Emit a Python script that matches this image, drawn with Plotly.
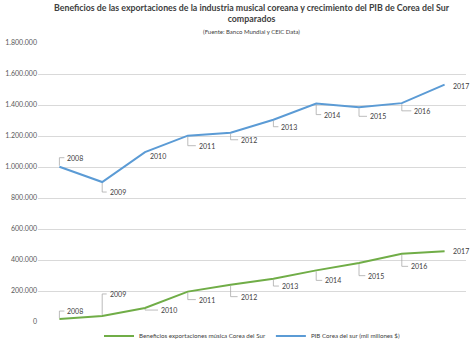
import plotly.graph_objects as go

years = ["2008", "2009", "2010", "2011", "2012", "2013", "2014", "2015", "2016", "2017"]
pib = [1002000, 903000, 1096000, 1202000, 1221000, 1305000, 1409000, 1385000, 1412000, 1531000]
musica = [19000, 39000, 90000, 196000, 241000, 279000, 333000, 381000, 441000, 456000]

# label offsets in pixels (dx right, dy down) relative to each point
pib_off = [(6, -9), (5.5, 10), (3, 3.5), (9, 10), (8.5, 7), (6, 7), (6, 11), (9, 9), (10.5, 7.7), (6, 1)]
mus_off = [(6, -8), (5.5, -22), (14, 2), (9, 8), (8, 12), (6.5, 7.3), (7, 10), (7.3, 12.7), (7.3, 12.7), (6, 0)]

GREEN = "#70AD47"
BLUE = "#5B9BD5"
FONT = "Lato, 'Open Sans', sans-serif"

fig = go.Figure()
fig.add_trace(go.Scatter(x=years, y=musica, mode="lines", name="Beneficios exportaciones música Corea del Sur",
                         line=dict(color=GREEN, width=2)))
fig.add_trace(go.Scatter(x=years, y=pib, mode="lines", name="PIB Corea del sur (mil millones $)",
                         line=dict(color=BLUE, width=2)))

annotations = []
shapes = []
for series, offs in ((pib, pib_off), (musica, mus_off)):
    for i, (yr, v, (dx, dy)) in enumerate(zip(years, series, offs)):
        annotations.append(dict(
            x=i, y=v, xref="x", yref="y", text=yr, showarrow=False,
            xanchor="left", yanchor="middle", xshift=dx, yshift=-dy,
            font=dict(size=7, color="#404040", family=FONT)))
        if abs(dy) > 4 or dx > 10:
            shapes.append(dict(
                type="path", xref="x", yref="y", xsizemode="pixel", ysizemode="pixel",
                xanchor=i, yanchor=v,
                path=f"M 0,{-1 if dy > 0 else 1} L 0,{-dy:.1f} L {dx - 1:.1f},{-dy:.1f}",
                line=dict(color="#a6a6a6", width=0.75)))

annotations.append(dict(
    x=0.5, y=1.0, xref="paper", yref="paper", yanchor="bottom", yshift=6, showarrow=False,
    text="<b>Beneficios de las exportaciones de la industria musical coreana y crecimiento del PIB de Corea del Sur<br>comparados</b><br><span style='font-size:6px'>(Fuente: Banco Mundial y CEIC Data)</span>",
    font=dict(size=8.8, color="#404040", family=FONT), align="center"))

fig.update_layout(
    width=474, height=346,
    margin=dict(l=38, r=8, t=43, b=24, autoexpand=False),
    paper_bgcolor="white", plot_bgcolor="white",
    separators=",.",
    showlegend=True,
    legend=dict(orientation="h", x=0.5, xanchor="center", yref="container", y=10 / 346, yanchor="middle",
                font=dict(size=6.2, color="#404040", family=FONT),
                traceorder="normal"),
    annotations=annotations,
    shapes=shapes,
    font=dict(family=FONT),
)
fig.update_xaxes(type="category", range=[-0.5, 9.5], showticklabels=False, showgrid=False,
                 zeroline=False, showline=False, ticks="")
fig.update_yaxes(range=[0, 1800000], dtick=200000, tickformat=",d", gridcolor="#d9d9d9", gridwidth=1,
                 zeroline=False, showline=False, tickfont=dict(size=7, color="#595959", family=FONT),
                 ticks="", ticklen=0)

fig.write_html("out.html")
